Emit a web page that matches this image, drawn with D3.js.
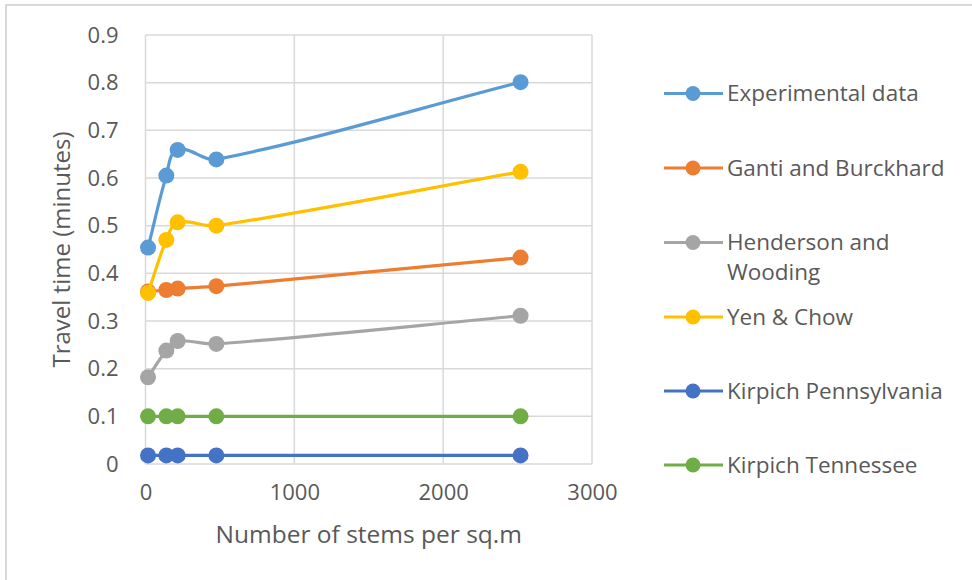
<!DOCTYPE html>
<html><head><meta charset="utf-8">
<script src="https://cdn.jsdelivr.net/npm/d3@7"></script>
<style>
body{margin:0;background:#fff;}
svg{display:block;font-family:"Open Sans",sans-serif;}
</style></head>
<body><svg id="c" width="972" height="580"></svg>
<script>
const stems = [17, 140, 216, 476, 2520];
const seriesNames = ["Experimental data","Ganti and Burckhard","Henderson and Wooding","Yen & Chow","Kirpich Pennsylvania","Kirpich Tennessee"];
const experimental = [0.454, 0.605, 0.659, 0.639, 0.801];
const ganti = [0.362, 0.365, 0.368, 0.373, 0.433];
const henderson = [0.182, 0.238, 0.258, 0.252, 0.311];
const yenChow = [0.359, 0.470, 0.507, 0.500, 0.613];
const kirpichPenn = [0.018, 0.018, 0.018, 0.018, 0.018];
const kirpichTenn = [0.1, 0.1, 0.1, 0.1, 0.1];
const colors = ["#5B9BD5","#ED7D31","#A5A5A5","#FFC000","#4472C4","#70AD47"];
const xTicks = [0, 1000, 2000, 3000];
const yTicks = [0,0.1,0.2,0.3,0.4,0.5,0.6,0.7,0.8,0.9];
const legendLabels = [["Experimental data"],["Ganti and Burckhard"],["Henderson and","Wooding"],["Yen & Chow"],["Kirpich Pennsylvania"],["Kirpich Tennessee"]];

const allSeries = [experimental, ganti, henderson, yenChow, kirpichPenn, kirpichTenn];
const svg = d3.select("#c");
const textColor = "#595959", gridColor = "#d9d9d9";

svg.append("rect").attr("x",6).attr("y",5).attr("width",1000).attr("height",1000)
  .attr("fill","none").attr("stroke","#d9d9d9").attr("stroke-width",2);

const x = d3.scaleLinear().domain([0,3000]).range([145.5,592]);
const y = d3.scaleLinear().domain([0,0.9]).range([464,35]);

const g = svg.append("g");
g.selectAll(".hg").data(yTicks).join("line")
  .attr("x1",x(0)).attr("x2",x(3000)).attr("y1",d=>y(d)).attr("y2",d=>y(d))
  .attr("stroke",gridColor).attr("stroke-width",1.5);
g.selectAll(".vg").data(xTicks).join("line")
  .attr("y1",y(0)).attr("y2",y(0.9)).attr("x1",d=>x(d)).attr("x2",d=>x(d))
  .attr("stroke",gridColor).attr("stroke-width",1.5);

const tickFont = "22px";
const yAxis = d3.axisLeft(y).tickValues(yTicks).tickFormat(d=>d===0?"0":d3.format(".1f")(d)).tickSize(0).tickPadding(27);
const ya = svg.append("g").attr("transform",`translate(${x(0)},0)`).call(yAxis);
ya.select(".domain").remove();
ya.selectAll("text").attr("fill",textColor).style("font-size",tickFont).style("font-family","'Open Sans',sans-serif");

const xAxis = d3.axisBottom(x).tickValues(xTicks).tickFormat(d3.format("d")).tickSize(0).tickPadding(20);
const xa = svg.append("g").attr("transform",`translate(0,${y(0)})`).call(xAxis);
xa.select(".domain").remove();
xa.selectAll("text").attr("fill",textColor).style("font-size",tickFont).style("font-family","'Open Sans',sans-serif");

svg.append("text").attr("x",(x(0)+x(3000))/2).attr("y",543).attr("text-anchor","middle")
  .attr("fill",textColor).style("font-size","24.5px").text("Number of stems per sq.m");
svg.append("text").attr("transform",`translate(62,${(y(0)+y(0.9))/2}) rotate(-90)`).attr("text-anchor","middle")
  .attr("dy","0.35em").attr("fill",textColor).style("font-size","24px").text("Travel time (minutes)");

// Excel-like smoothing: Bezier with tangent direction from neighbours, length ~ segment/3
function smoothPath(vals){
  const P = vals.map((v,i)=>[x(stems[i]), y(v)]);
  const n = P.length;
  const dir = P.map((p,i)=>{
    const a = P[Math.max(0,i-1)], b = P[Math.min(n-1,i+1)];
    const dx=b[0]-a[0], dy=b[1]-a[1], L=Math.hypot(dx,dy)||1;
    return [dx/L, dy/L];
  });
  const p = d3.path();
  p.moveTo(P[0][0],P[0][1]);
  for(let i=0;i<n-1;i++){
    const d = Math.hypot(P[i+1][0]-P[i][0], P[i+1][1]-P[i][1]);
    const k = d/3;
    p.bezierCurveTo(P[i][0]+dir[i][0]*k, P[i][1]+dir[i][1]*k,
                    P[i+1][0]-dir[i+1][0]*k, P[i+1][1]-dir[i+1][1]*k,
                    P[i+1][0], P[i+1][1]);
  }
  return p.toString();
}

allSeries.forEach((vals,si)=>{
  const sg = svg.append("g");
  sg.append("path").attr("d",smoothPath(vals)).attr("fill","none").attr("stroke",colors[si]).attr("stroke-width",3.2);
  sg.selectAll("circle").data(vals).join("circle")
    .attr("cx",(d,i)=>x(stems[i])).attr("cy",d=>y(d)).attr("r",8).attr("fill",colors[si]);
});

const legY = [93.5, 168, 242.5, 317, 391, 465];
legendLabels.forEach((lab,i)=>{
  const lg = svg.append("g").attr("transform",`translate(0,${legY[i]})`);
  lg.append("line").attr("x1",664).attr("x2",723).attr("y1",0).attr("y2",0).attr("stroke",colors[i]).attr("stroke-width",3.2);
  lg.append("circle").attr("cx",693).attr("cy",0).attr("r",7.5).attr("fill",colors[i]);
  lab.forEach((t,j)=>{
    lg.append("text").attr("x",727).attr("y",j*29.5).attr("dy","0.35em").attr("fill",textColor)
      .style("font-size","22.5px").text(t);
  });
});
</script></body></html>
